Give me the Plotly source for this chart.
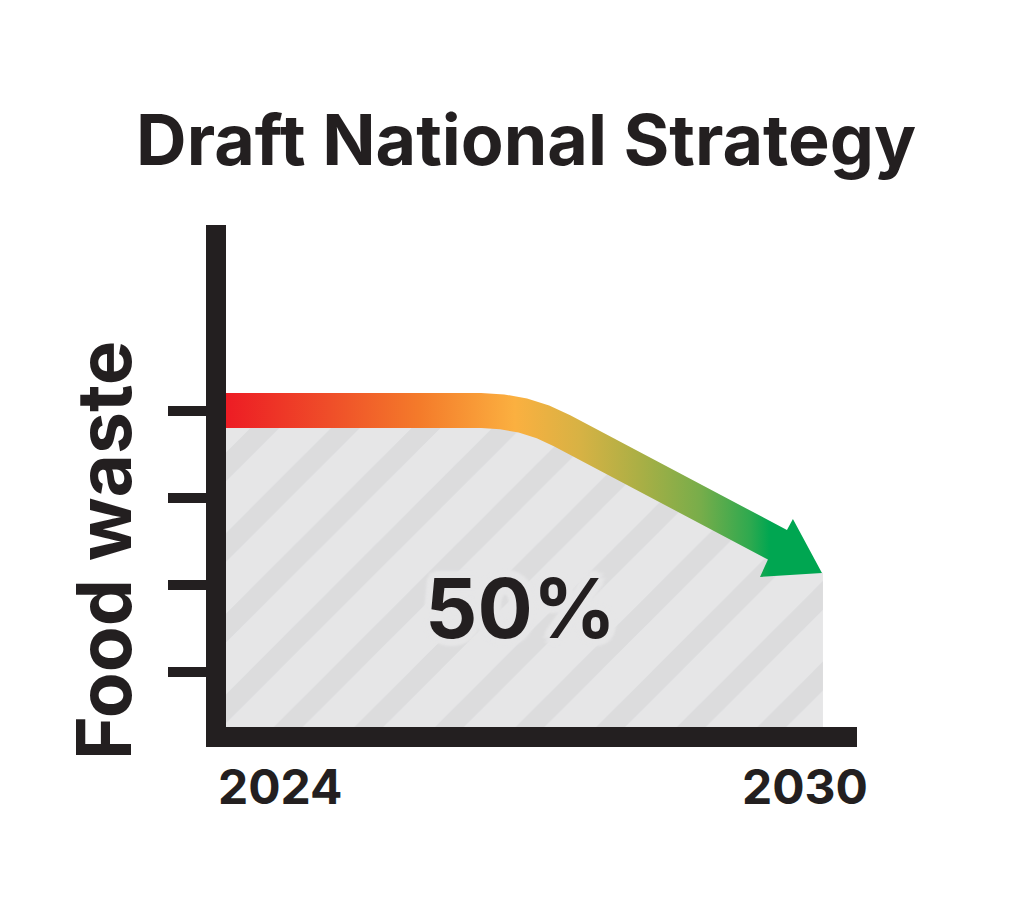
"""Draft National Strategy - food waste reduction graphic."""
from __future__ import annotations

import plotly.graph_objects as go

FONT = "Inter"
INK = "#231F20"
HATCH_BG = "#E6E6E7"
HATCH_FG = "#D1D2D4"

TITLE = "Draft National Strategy"
Y_TITLE = "Food waste"
YEAR_LABELS = ["2024", "2030"]
YEARS = [2024, 2030]
Y_TICKS = [25, 50, 75, 100]
TARGET_LABEL = "50%"

# area under the trajectory (hatched)
AREA_X = [2024.0, 2026.564, 2026.776, 2026.984, 2027.186, 2027.378, 2029.543, 2029.990, 2030.0]
AREA_Y = [100.03, 100.03, 99.66, 98.57, 96.74, 94.24, 61.51, 53.49, 53.49]

# arrow outline: upper edge, head, lower edge back to the axis
ARROW_X = [2024.0, 2026.564, 2026.797, 2027.026, 2027.248, 2027.460, 2029.638,
           2029.698, 2029.990, 2029.367,
           2029.447, 2027.295, 2027.123, 2026.941, 2026.754, 2026.564, 2024.0]
ARROW_Y = [105.04, 105.04, 104.64, 103.44, 101.43, 98.68, 65.81,
           68.96, 53.49, 52.35,
           57.33, 89.81, 92.07, 93.70, 94.67, 95.02, 95.02]

GRADIENT = [
    [0.000, "#ED1C24"],
    [0.174, "#EF4E29"],
    [0.325, "#F47B2A"],
    [0.484, "#FBB040"],
    [0.593, "#D7B244"],
    [0.693, "#AAAF45"],
    [0.794, "#78AD4A"],
    [0.878, "#2EA94F"],
    [0.911, "#00A651"],
    [1.000, "#00A651"],
]


def halo(color: str, r: int = 7) -> str:
    offs = [(r, 0), (-r, 0), (0, r), (0, -r), (5, 5), (-5, 5), (5, -5), (-5, -5)]
    return ", ".join(f"{dx}px {dy}px 3px {color}" for dx, dy in offs)


def build() -> go.Figure:
    fig = go.Figure()
    fig.add_trace(
        go.Scatter(
            x=AREA_X, y=AREA_Y, mode="lines", fill="tozeroy",
            line=dict(width=0), fillcolor=HATCH_BG,
            fillpattern=dict(shape="/", bgcolor=HATCH_BG, fgcolor=HATCH_FG,
                             size=57, solidity=0.36),
            hoverinfo="skip",
        )
    )
    fig.add_trace(
        go.Scatter(
            x=ARROW_X, y=ARROW_Y, mode="lines", fill="toself",
            line=dict(width=0),
            fillgradient=dict(type="horizontal", colorscale=GRADIENT,
                              start=YEARS[0], stop=YEARS[1]),
            hoverinfo="skip",
        )
    )

    fig.add_annotation(
        x=2026.955, y=43.2, text=f"<b>{TARGET_LABEL}</b>", showarrow=False,
        font=dict(family=FONT, size=82, color=INK, shadow=halo(HATCH_BG)),
    )
    fig.add_annotation(
        xref="paper", x=-0.1933, y=59.8, text=f"<b>{Y_TITLE}</b>", textangle=-90,
        showarrow=False, xanchor="center", yanchor="middle",
        font=dict(family=FONT, size=75, color=INK),
    )
    fig.add_annotation(
        x=YEARS[0], yref="paper", y=-0.1185, text=f"<b>{YEAR_LABELS[0]}</b>",
        showarrow=False, xanchor="left", yanchor="middle", xshift=-10,
        font=dict(family=FONT, size=48, color=INK),
    )
    fig.add_annotation(
        x=YEARS[1], yref="paper", y=-0.1185, text=f"<b>{YEAR_LABELS[1]}</b>",
        showarrow=False, xanchor="right", yanchor="middle", xshift=47,
        font=dict(family=FONT, size=48, color=INK),
    )

    # page body has an 8px margin, so the figure is 16px smaller than the window
    fig.update_layout(
        width=1008, height=897,
        margin=dict(l=218, r=159, t=217, b=178),
        paper_bgcolor="white", plot_bgcolor="white",
        showlegend=False,
        title=dict(
            text=f"<b>{TITLE}</b>", x=0.514, xref="container", xanchor="center",
            y=0.852, yref="container", yanchor="middle",
            font=dict(family=FONT, size=70, color=INK),
        ),
    )
    fig.update_xaxes(
        range=[2024, 2030.342], showgrid=False, zeroline=False,
        showline=True, linewidth=20, linecolor=INK,
        showticklabels=False, ticks="",
    )
    fig.update_yaxes(
        range=[9.39, 153.15], showgrid=False, zeroline=False,
        showline=True, linewidth=20, linecolor=INK,
        tickvals=Y_TICKS, ticks="outside", ticklen=38, tickwidth=10, tickcolor=INK,
        showticklabels=False,
    )
    return fig


fig = build()
fig.write_html("out.html")
